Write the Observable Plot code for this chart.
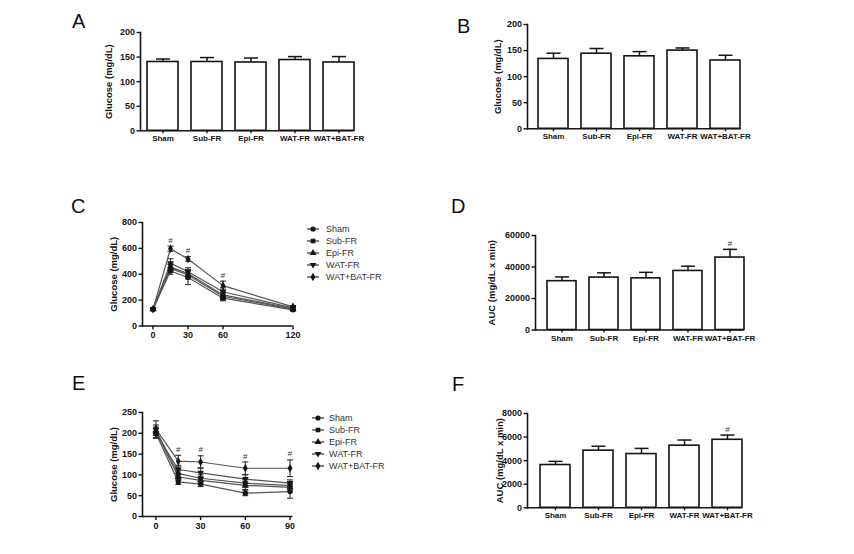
<!DOCTYPE html>
<html><head><meta charset="utf-8">
<script src="https://cdn.jsdelivr.net/npm/d3@7"></script>
<script src="https://cdn.jsdelivr.net/npm/@observablehq/plot@0.6"></script>
<style>
html,body{margin:0;padding:0;background:#fff;}
#fig{position:relative;width:854px;height:554px;overflow:hidden;background:#fff;font-family:"Liberation Sans",Arial,sans-serif;}
.panel{position:absolute;}
.letter{position:absolute;font-family:"Liberation Sans",Arial,sans-serif;font-size:20px;line-height:20px;color:#111;}
.lg{position:absolute;font-family:"Liberation Sans",Arial,sans-serif;font-size:9px;line-height:12px;color:#333;white-space:nowrap;}
.lgm{position:absolute;}
.panel svg g[aria-label="y-axis tick"], .panel svg g[aria-label="x-axis tick"]{stroke-width:1.4;}
.panel svg g[aria-label="y-axis tick label"]{font-size:9px;}
.panel svg g[aria-label="x-axis tick label"]{font-size:8px;}
.line svg g[aria-label="x-axis tick label"]{font-size:9px;}
.panel svg g[aria-label="y-axis label"]{font-size:9.5px;}
</style>
</head><body><div id="fig"></div>
<script>
// ---------- data ----------
const groups = ["Sham", "Sub-FR", "Epi-FR", "WAT-FR", "WAT+BAT-FR"];

// A: fasting glucose (mg/dL)
const glucoseA = [140, 140, 139, 144, 139];
const glucoseAErr = [6, 9, 9, 7, 12];
// B: fasting glucose (mg/dL)
const glucoseB = [134, 144, 139, 150, 131];
const glucoseBErr = [11, 10, 9, 5, 10];
// D: GTT AUC
const aucGTT = [31000, 33300, 32800, 37500, 46000];
const aucGTTErr = [2700, 3000, 3800, 3000, 5200];
const aucGTTSig = [false, false, false, false, true];
// F: ITT AUC
const aucITT = [3630, 4850, 4560, 5270, 5770];
const aucITTErr = [310, 370, 480, 480, 400];
const aucITTSig = [false, false, false, false, true];

// C: GTT time course
const gttTimes = [0, 15, 30, 60, 120];
const gttSham = [130, 425, 375, 215, 125];
const gttShamErr = [8, 25, 55, 20, 8];
const gttSub = [130, 455, 405, 240, 135];
const gttSubErr = [8, 30, 30, 25, 8];
const gttEpi = [130, 445, 395, 230, 130];
const gttEpiErr = [8, 30, 30, 25, 8];
const gttWAT = [130, 485, 420, 265, 140];
const gttWATErr = [8, 35, 30, 30, 10];
const gttWATBAT = [130, 597, 518, 312, 148];
const gttWATBATErr = [8, 20, 18, 35, 10];
const gttSigTimes = [15, 30, 60];

// E: ITT time course
const ittTimes = [0, 15, 30, 60, 90];
const ittSham = [200, 83, 78, 56, 60];
const ittShamErr = [12, 6, 6, 6, 16];
const ittSub = [208, 103, 92, 80, 74];
const ittSubErr = [12, 8, 8, 10, 10];
const ittEpi = [205, 95, 87, 75, 70];
const ittEpiErr = [10, 8, 8, 10, 10];
const ittWAT = [200, 113, 105, 90, 80];
const ittWATErr = [12, 10, 12, 10, 8];
const ittWATBAT = [210, 133, 131, 116, 116];
const ittWATBATErr = [20, 14, 15, 15, 20];
const ittSigTimes = [15, 30, 60, 90];

// ticks
const yTicksGlucose = [0, 50, 100, 150, 200];
const yTicksGTT = [0, 200, 400, 600, 800];
const yTicksITT = [0, 50, 100, 150, 200, 250];
const yTicksAUCGTT = [0, 20000, 40000, 60000];
const yTicksAUCITT = [0, 2000, 4000, 6000, 8000];
const xTicksGTT = [0, 30, 60, 120];
const xTicksITT = [0, 30, 60, 90];

// ---------- helpers ----------
const fig = document.getElementById("fig");
const INK = "#151515";
const capSymbol = {draw(ctx, size) { const w = Math.sqrt(size / Math.PI); ctx.moveTo(-w, 0); ctx.lineTo(w, 0); }};
const triDown = {draw(ctx, size) { const s = Math.sqrt(size / Math.PI) * 1.35; ctx.moveTo(0, s); ctx.lineTo(s * 0.95, -s * 0.6); ctx.lineTo(-s * 0.95, -s * 0.6); ctx.closePath(); }};
const seriesSymbols = [d3.symbolCircle, d3.symbolSquare, d3.symbolTriangle, triDown, d3.symbolDiamond];
const baseStyle = {fontFamily: "Liberation Sans, Arial, sans-serif", fontSize: "9px", fontWeight: "bold", color: INK, background: "transparent", overflow: "visible"};

function place(node, left, top, cls) {
  const d = document.createElement("div");
  d.className = "panel " + (cls || "");
  d.style.left = left + "px";
  d.style.top = top + "px";
  d.appendChild(node);
  fig.appendChild(d);
}
function letter(t, left, top) {
  const d = document.createElement("div");
  d.className = "letter"; d.textContent = t;
  d.style.left = left + "px"; d.style.top = top + "px";
  fig.appendChild(d);
}

function barPanel({values, errors, sig, yMax, yTicks, yLabel, labelOffset, geo}) {
  const mL = 62, mR = 16, mT = 14, mB = 24;
  const L = geo.xEnd - geo.axisX;
  const step = geo.step;
  const po = (L - step * 4.7) / (2 * step);
  const data = groups.map((g, i) => ({g, v: values[i], e: errors[i], s: sig[i]}));
  const chart = Plot.plot({
    width: L + mL + mR,
    height: (geo.yBot - geo.yTop) + mT + mB,
    marginLeft: mL, marginRight: mR, marginTop: mT, marginBottom: mB,
    style: baseStyle,
    x: {domain: groups, paddingInner: 0.3, paddingOuter: po, align: 1, label: null, tickSize: 3, tickPadding: 2},
    y: {domain: [0, yMax], ticks: yTicks, tickFormat: d3.format("d"), tickSize: 3.5, tickPadding: 2,
        label: yLabel, labelAnchor: "center", labelOffset, labelArrow: "none"},
    marks: [
      Plot.barY(data, {x: "g", y: "v", fill: "white", stroke: INK, strokeWidth: 1.6}),
      Plot.ruleX(data, {x: "g", y1: "v", y2: d => d.v + d.e, stroke: INK, strokeWidth: 1.5}),
      Plot.dot(data, {x: "g", y: d => d.v + d.e, symbol: capSymbol, r: 7, stroke: INK, fill: "none", strokeWidth: 1.5}),
      Plot.text(data.filter(d => d.s), {x: "g", y: d => d.v + d.e, text: () => "#", dy: -6, fontSize: 8, fontWeight: "normal", fill: "#333"}),
      Plot.ruleY([0], {stroke: INK, strokeWidth: 1.6}),
      Plot.frame({anchor: "left", stroke: INK, strokeWidth: 1.6})
    ]
  });
  place(chart, geo.axisX - mL, geo.yTop - mT, "bar");
}

function linePanel({times, series, errs, yMax, yTicks, xTicks, xDomain, sigTimes, sigIndex, yLabel, labelOffset, geo}) {
  const mL = 62, mR = 14, mT = 14, mB = 24;
  const rows = [];
  series.forEach((arr, si) => arr.forEach((v, ti) => rows.push({s: groups[si], si, t: times[ti], v, e: errs[si][ti]})));
  const sigRows = rows.filter(r => r.si === sigIndex && sigTimes.includes(r.t));
  const markerMarks = groups.map((g, si) =>
    Plot.dot(rows.filter(r => r.si === si), {x: "t", y: "v", symbol: seriesSymbols[si], r: 2.6, fill: INK, stroke: "none"}));
  const chart = Plot.plot({
    width: (geo.xEnd - geo.axisX) + mL + mR,
    height: (geo.yBot - geo.yTop) + mT + mB,
    marginLeft: mL, marginRight: mR, marginTop: mT, marginBottom: mB,
    style: baseStyle,
    x: {domain: xDomain, ticks: xTicks, tickFormat: d3.format("d"), tickSize: 4, tickPadding: 2, label: null},
    y: {domain: [0, yMax], ticks: yTicks, tickFormat: d3.format("d"), tickSize: 3.5, tickPadding: 2,
        label: yLabel, labelAnchor: "center", labelOffset, labelArrow: "none"},
    marks: [
      Plot.line(rows, {x: "t", y: "v", z: "s", stroke: "#555", strokeWidth: 1.2}),
      Plot.ruleX(rows, {x: "t", y1: d => d.v - d.e, y2: d => d.v + d.e, stroke: "#333", strokeWidth: 1.1}),
      Plot.dot(rows, {x: "t", y: d => d.v + d.e, symbol: capSymbol, r: 3, stroke: "#333", fill: "none", strokeWidth: 1.1}),
      Plot.dot(rows, {x: "t", y: d => d.v - d.e, symbol: capSymbol, r: 3, stroke: "#333", fill: "none", strokeWidth: 1.1}),
      ...markerMarks,
      Plot.text(sigRows, {x: "t", y: d => d.v + d.e, text: () => "#", dy: -6, fontSize: 8, fontWeight: "normal", fill: "#333"}),
      Plot.ruleY([0], {stroke: INK, strokeWidth: 1.6}),
      Plot.frame({anchor: "left", stroke: INK, strokeWidth: 1.6})
    ]
  });
  place(chart, geo.axisX - mL, geo.yTop - mT, "line");
}

function legend(markerX, textX, y0, dy) {
  groups.forEach((g, i) => {
    const yc = y0 + i * dy;
    const svg = d3.create("svg").attr("width", 16).attr("height", 10)
      .attr("class", "lgm").style("left", (markerX - 8) + "px").style("top", (yc - 5) + "px");
    svg.append("line").attr("x1", 2).attr("x2", 14).attr("y1", 5).attr("y2", 5).attr("stroke", "#333").attr("stroke-width", 1.2);
    svg.append("path").attr("transform", "translate(8,5)")
      .attr("d", d3.symbol(seriesSymbols[i], Math.PI * 2.6 * 2.6)()).attr("fill", INK);
    fig.appendChild(svg.node());
    const t = document.createElement("div");
    t.className = "lg"; t.textContent = g;
    t.style.left = textX + "px"; t.style.top = (yc - 6) + "px";
    fig.appendChild(t);
  });
}

// ---------- panels ----------
barPanel({values: glucoseA, errors: glucoseAErr, sig: [false,false,false,false,false], yMax: 200, yTicks: yTicksGlucose,
  yLabel: "Glucose (mg/dL)", labelOffset: 35, geo: {axisX: 140, xEnd: 353.5, yTop: 31.7, yBot: 130, step: 44}});
barPanel({values: glucoseB, errors: glucoseBErr, sig: [false,false,false,false,false], yMax: 200, yTicks: yTicksGlucose,
  yLabel: "Glucose (mg/dL)", labelOffset: 33, geo: {axisX: 527, xEnd: 740.5, yTop: 24, yBot: 128.3, step: 43.3}});
linePanel({times: gttTimes, series: [gttSham, gttSub, gttEpi, gttWAT, gttWATBAT],
  errs: [gttShamErr, gttSubErr, gttEpiErr, gttWATErr, gttWATBATErr], yMax: 800, yTicks: yTicksGTT, xTicks: xTicksGTT,
  xDomain: [-9, 120], sigTimes: gttSigTimes, sigIndex: 4, yLabel: "Glucose (mg/dL)", labelOffset: 32,
  geo: {axisX: 142, xEnd: 292.5, yTop: 222, yBot: 325.5}});
barPanel({values: aucGTT, errors: aucGTTErr, sig: aucGTTSig, yMax: 60000, yTicks: yTicksAUCGTT,
  yLabel: "AUC (mg/dL x min)", labelOffset: 47, geo: {axisX: 535, xEnd: 744, yTop: 235, yBot: 329.5, step: 43}});
linePanel({times: ittTimes, series: [ittSham, ittSub, ittEpi, ittWAT, ittWATBAT],
  errs: [ittShamErr, ittSubErr, ittEpiErr, ittWATErr, ittWATBATErr], yMax: 250, yTicks: yTicksITT, xTicks: xTicksITT,
  xDomain: [-9, 92], sigTimes: ittSigTimes, sigIndex: 4, yLabel: "Glucose (mg/dL)", labelOffset: 32,
  geo: {axisX: 142, xEnd: 292.5, yTop: 411.7, yBot: 515.7}});
barPanel({values: aucITT, errors: aucITTErr, sig: aucITTSig, yMax: 8000, yTicks: yTicksAUCITT,
  yLabel: "AUC (mg/dL x min)", labelOffset: 31, geo: {axisX: 527, xEnd: 742, yTop: 413, yBot: 507.3, step: 43.5}});

legend(312.7, 326, 229, 12);
legend(318, 329, 418.3, 12);

letter("A", 72, 11);
letter("B", 457, 16);
letter("C", 71, 196);
letter("D", 451, 196);
letter("E", 72, 373);
letter("F", 452, 374);
</script>
</body></html>
